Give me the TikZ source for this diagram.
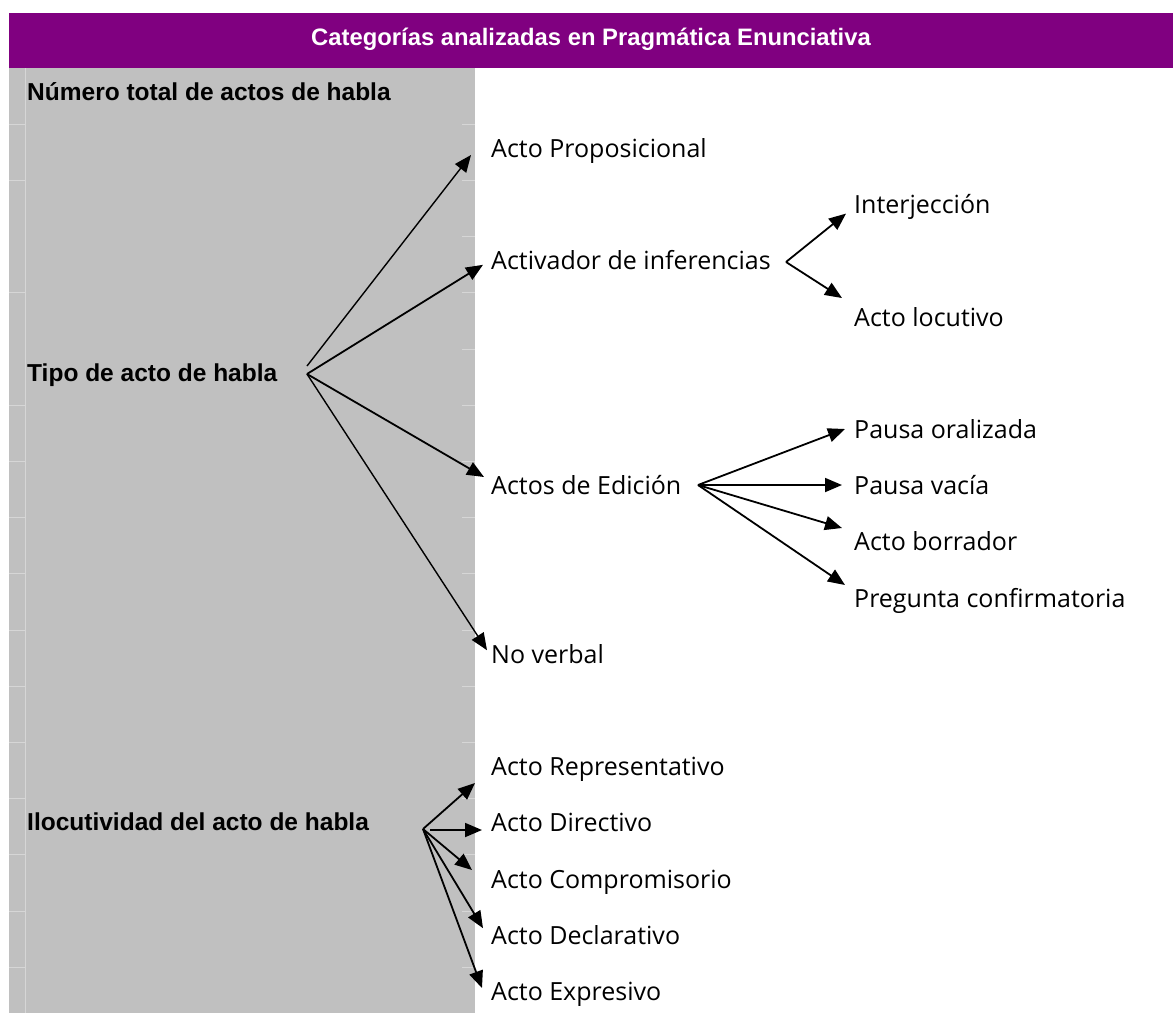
\documentclass[tikz,border=0pt]{standalone}
\usepackage{fontspec}
\setmainfont{Open Sans}
\newfontfamily\labelfont{Liberation Sans}
\usetikzlibrary{arrows.meta}
\definecolor{cellgray}{HTML}{C0C0C0}
\definecolor{gridgray}{HTML}{D6D6D6}
\definecolor{headpurple}{HTML}{800080}

\begin{document}
\begin{tikzpicture}[x=1pt, y=-1pt,
    cat/.style={anchor=base west, inner sep=0pt, font=\labelfont\bfseries\fontsize{24.5}{28}\selectfont},
    item/.style={anchor=base west, inner sep=0pt, font=\fontsize{25}{30}\selectfont},
    arr/.style={-{Triangle[length=17pt,width=14pt]}, line width=1.8pt},
    thinarr/.style={arr, line width=1.4pt}]
    \useasboundingbox (0,0) rectangle (1173,1013);

    % Header
    \fill[headpurple] (9,13) rectangle (1173,68);
    \node[anchor=base, inner sep=0pt, text=white, font=\labelfont\bfseries\fontsize{23.8}{28}\selectfont] (title) at (591,45) {Categorías analizadas en Pragmática Enunciativa};

    % Gray column with faint grid
    \fill[cellgray] (9,68) rectangle (475,1013);
    \draw[gridgray, line width=1pt] (25,68) -- (25,1013);
    \foreach \k in {1,2,4,6,7,8,9,10,11,12,13,14,15,16}
        \draw[gridgray, line width=1pt] (9,{68+56.2*\k}) -- (25,{68+56.2*\k});
    \foreach \k in {1,...,16}
        \draw[gridgray, line width=1pt] (462,{68+56.2*\k}) -- (475,{68+56.2*\k});

    % Categories
    \node[cat] (total) at (27,100) {Número total de actos de habla};
    \node[cat] (tipo) at (27,381) {Tipo de acto de habla};
    \node[cat] (iloc) at (27,830) {Ilocutividad del acto de habla};

    % Speech act types
    \node[item] (prop) at (491,157.4) {Acto Proposicional};
    \node[item] (activ) at (491,269.8) {Activador de inferencias};
    \node[item] (edic) at (491,494.6) {Actos de Edición};
    \node[item] (noverb) at (491,663.2) {No verbal};

    % Subtypes
    \node[item] (interj) at (854,213.6) {Interjección};
    \node[item] (locut) at (854,326) {Acto locutivo};
    \node[item] (pausaor) at (854,438.4) {Pausa oralizada};
    \node[item] (pausav) at (854,494.6) {Pausa vacía};
    \node[item] (borr) at (854,550.8) {Acto borrador};
    \node[item] (preg) at (854,607) {Pregunta confirmatoria};

    % Illocutionary acts
    \node[item] (repr) at (491,775.6) {Acto Representativo};
    \node[item] (dir) at (491,831.8) {Acto Directivo};
    \node[item] (comp) at (491,888) {Acto Compromisorio};
    \node[item] (decl) at (491,944.2) {Acto Declarativo};
    \node[item] (expr) at (491,1000.4) {Acto Expresivo};

    % Fan points
    \coordinate (tipo-o) at (307,374);
    \coordinate (activ-o) at (786,262);
    \coordinate (edic-o) at (698,485);
    \coordinate (iloc-o) at (423,829);

    % Arrows from Tipo
    \draw[thinarr] ([shift={(0,-8)}]tipo-o) -- ([shift={(-20,-2.4)}]prop.base west);
    \draw[arr] (tipo-o) -- ([shift={(-8,-5)}]activ.base west);
    \draw[arr] (tipo-o) -- ([shift={(-7,-17.6)}]edic.base west);
    \draw[thinarr] (tipo-o) -- ([shift={(-4,-13)}]noverb.base west);

    % Arrows from Activador
    \draw[arr] (activ-o) -- ([shift={(-8,0)}]interj.base west);
    \draw[arr] (activ-o) -- ([shift={(-12,-28)}]locut.base west);

    % Arrows from Edicion
    \draw[arr] (edic-o) -- ([shift={(-9,-9.4)}]pausaor.base west);
    \draw[arr] (edic-o) -- ([shift={(-12,-9.6)}]pausav.base west);
    \draw[arr] (edic-o) -- ([shift={(-12,-22.8)}]borr.base west);
    \draw[arr] (edic-o) -- ([shift={(-9,-22)}]preg.base west);

    % Arrows from Ilocutividad
    \draw[arr] (iloc-o) -- ([shift={(-16,7.4)}]repr.base west);
    \draw[arr] ([shift={(7,1)}]iloc-o) -- ([shift={(-9,-1.8)}]dir.base west);
    \draw[arr] (iloc-o) -- ([shift={(-19,-18)}]comp.base west);
    \draw[arr] (iloc-o) -- ([shift={(-8,-16)}]decl.base west);
    \draw[arr] (iloc-o) -- ([shift={(-9,-12.4)}]expr.base west);
\end{tikzpicture}
\end{document}
